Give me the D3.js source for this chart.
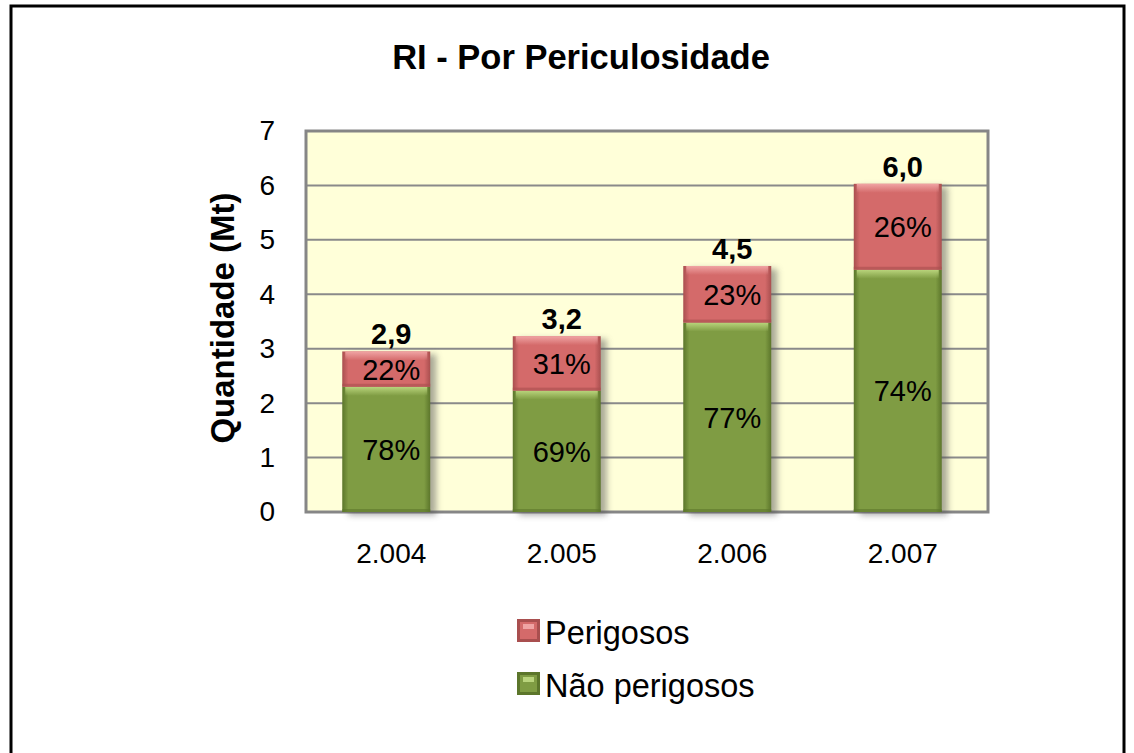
<!DOCTYPE html>
<html>
<head>
<meta charset="utf-8">
<script src="https://cdn.jsdelivr.net/npm/d3@7"></script>
<style>
  body { margin: 0; background: #fff; }
  text { font-family: "Liberation Sans", Arial, sans-serif; }
</style>
</head>
<body>
<script>
// data
var anos = ["2.004", "2.005", "2.006", "2.007"];
var naoPerigosos = [2.30, 2.23, 3.48, 4.45];
var perigosos = [0.65, 1.00, 1.04, 1.58];
var totalLabels = ["2,9", "3,2", "4,5", "6,0"];
var yTicks = [0, 1, 2, 3, 4, 5, 6, 7];
var series = ["Não perigosos", "Perigosos"];

var W = 1134, H = 753;
var plot = { left: 306, right: 988, top: 131, bottom: 512 };

var svg = d3.select("body").append("svg")
    .attr("width", W)
    .attr("height", H);

// gradients / filters
var defs = svg.append("defs");
var palette = {
    "Perigosos": { base: "#d46a6a", light: "#f0a4a4", dark: "#a94f4f" },
    "Não perigosos": { base: "#7f9c43", light: "#b9d47c", dark: "#5c762b" }
};
series.forEach(function (s, i) {
    var c = palette[s];
    var gh = defs.append("linearGradient").attr("id", "side" + i)
        .attr("x1", 0).attr("x2", 1).attr("y1", 0).attr("y2", 0);
    gh.append("stop").attr("offset", "0%").attr("stop-color", c.dark);
    gh.append("stop").attr("offset", "7%").attr("stop-color", c.base);
    gh.append("stop").attr("offset", "93%").attr("stop-color", c.base);
    gh.append("stop").attr("offset", "100%").attr("stop-color", c.dark);
    var gv = defs.append("linearGradient").attr("id", "top" + i)
        .attr("x1", 0).attr("x2", 0).attr("y1", 0).attr("y2", 1);
    gv.append("stop").attr("offset", "0%").attr("stop-color", c.light);
    gv.append("stop").attr("offset", "100%").attr("stop-color", c.light).attr("stop-opacity", 0);
});
var f = defs.append("filter").attr("id", "shadow")
    .attr("x", "-20%").attr("y", "-20%").attr("width", "150%").attr("height", "150%");
f.append("feGaussianBlur").attr("stdDeviation", 3);

// outer border
svg.append("path")
    .attr("d", "M11,753V6H1124V753")
    .attr("fill", "none")
    .attr("stroke", "#000")
    .attr("stroke-width", 3);

// title
svg.append("text")
    .attr("x", 581)
    .attr("y", 69)
    .attr("text-anchor", "middle")
    .attr("font-size", 34.5)
    .attr("font-weight", "bold")
    .text("RI - Por Periculosidade");

var y = d3.scaleLinear().domain([0, 7]).range([plot.bottom, plot.top]);
var x = d3.scaleBand().domain(anos)
    .range([plot.left, plot.right])
    .paddingInner(0.484)
    .paddingOuter(0.242);
var barShift = -5;

// plot area
svg.append("rect")
    .attr("x", plot.left).attr("y", plot.top)
    .attr("width", plot.right - plot.left)
    .attr("height", plot.bottom - plot.top)
    .attr("fill", "#ffffd9");

svg.append("g").selectAll("line")
    .data(yTicks)
    .enter().append("line")
    .attr("x1", plot.left).attr("x2", plot.right)
    .attr("y1", function (d) { return y(d); })
    .attr("y2", function (d) { return y(d); })
    .attr("stroke", "#8a8a8a")
    .attr("stroke-width", 2);

svg.append("rect")
    .attr("x", plot.left).attr("y", plot.top)
    .attr("width", plot.right - plot.left)
    .attr("height", plot.bottom - plot.top)
    .attr("fill", "none")
    .attr("stroke", "#868686")
    .attr("stroke-width", 3);

// stacked data
var rows = anos.map(function (a, i) {
    return { ano: a, "Não perigosos": naoPerigosos[i], "Perigosos": perigosos[i], total: totalLabels[i] };
});
var stack = d3.stack().keys(series)(rows);

// shadows
svg.append("g").selectAll("rect")
    .data(rows)
    .enter().append("rect")
    .attr("x", function (d) { return x(d.ano) + barShift + 6; })
    .attr("y", function (d) { return y(d["Não perigosos"] + d["Perigosos"]) + 3; })
    .attr("width", x.bandwidth())
    .attr("height", function (d) { return y(0) - y(d["Não perigosos"] + d["Perigosos"]); })
    .attr("fill", "#555")
    .attr("opacity", 0.5)
    .attr("filter", "url(#shadow)");

// bars
var layers = svg.append("g").selectAll("g")
    .data(stack)
    .enter().append("g");

layers.selectAll("rect.body")
    .data(function (d, i) { return d.map(function (p) { p.si = i; return p; }); })
    .enter().append("rect")
    .attr("class", "body")
    .attr("x", function (d) { return x(d.data.ano) + barShift; })
    .attr("y", function (d) { return y(d[1]); })
    .attr("width", x.bandwidth())
    .attr("height", function (d) { return y(d[0]) - y(d[1]); })
    .attr("fill", function (d) { return "url(#side" + d.si + ")"; });

layers.selectAll("rect.hl")
    .data(function (d) { return d; })
    .enter().append("rect")
    .attr("class", "hl")
    .attr("x", function (d) { return x(d.data.ano) + barShift + 3; })
    .attr("y", function (d) { return y(d[1]); })
    .attr("width", x.bandwidth() - 6)
    .attr("height", 9)
    .attr("fill", function (d) { return "url(#top" + d.si + ")"; });

layers.selectAll("rect.bot")
    .data(function (d) { return d; })
    .enter().append("rect")
    .attr("class", "bot")
    .attr("x", function (d) { return x(d.data.ano) + barShift; })
    .attr("y", function (d) { return y(d[0]) - 3; })
    .attr("width", x.bandwidth())
    .attr("height", 3)
    .attr("fill", function (d) { return palette[series[d.si]].dark; })
    .attr("opacity", 0.6);

// percent labels
layers.selectAll("text")
    .data(function (d) { return d; })
    .enter().append("text")
    .attr("x", function (d) { return x(d.data.ano) + x.bandwidth() / 2; })
    .attr("y", function (d) { return (y(d[0]) + y(d[1])) / 2; })
    .attr("dy", "0.36em")
    .attr("text-anchor", "middle")
    .attr("font-size", 29)
    .text(function (d) {
        var t = d.data["Não perigosos"] + d.data["Perigosos"];
        return Math.round((d[1] - d[0]) / t * 100) + "%";
    });

// totals
svg.append("g").selectAll("text")
    .data(rows)
    .enter().append("text")
    .attr("x", function (d) { return x(d.ano) + x.bandwidth() / 2; })
    .attr("y", function (d) { return y(d["Não perigosos"] + d["Perigosos"]) - 7; })
    .attr("text-anchor", "middle")
    .attr("font-size", 29)
    .attr("font-weight", "bold")
    .text(function (d) { return d.total; });

// axes
var yAxis = svg.append("g")
    .attr("transform", "translate(" + (plot.left - 28) + ",0)")
    .call(d3.axisLeft(y).tickValues(yTicks).tickSize(0).tickFormat(d3.format("d")));
yAxis.select(".domain").remove();
yAxis.selectAll("text").attr("font-size", 28).attr("fill", "#000")
    .style("font-family", "'Liberation Sans', Arial, sans-serif");

var xAxis = svg.append("g")
    .attr("transform", "translate(0," + (plot.bottom + 28) + ")")
    .call(d3.axisBottom(x).tickSize(0));
xAxis.select(".domain").remove();
xAxis.selectAll("text").attr("font-size", 28).attr("fill", "#000")
    .style("font-family", "'Liberation Sans', Arial, sans-serif");

svg.append("text")
    .attr("transform", "translate(234,318) rotate(-90)")
    .attr("text-anchor", "middle")
    .attr("font-size", 33)
    .attr("font-weight", "bold")
    .text("Quantidade (Mt)");

// legend
var legendItems = ["Perigosos", "Não perigosos"];
var legend = svg.append("g").selectAll("g")
    .data(legendItems)
    .enter().append("g")
    .attr("transform", function (d, i) { return "translate(517," + (619 + i * 53) + ")"; });
legend.append("rect")
    .attr("width", 23).attr("height", 23)
    .attr("fill", function (d) { return palette[d].dark; });
legend.append("rect")
    .attr("x", 3).attr("y", 3)
    .attr("width", 17).attr("height", 17)
    .attr("fill", function (d) { return palette[d].base; });
legend.append("rect")
    .attr("x", 6).attr("y", 5)
    .attr("width", 11).attr("height", 5)
    .attr("fill", function (d) { return palette[d].light; });
legend.append("text")
    .attr("x", 28)
    .attr("y", 25)
    .attr("font-size", 32.5)
    .text(function (d) { return d; });
</script>
</body>
</html>
